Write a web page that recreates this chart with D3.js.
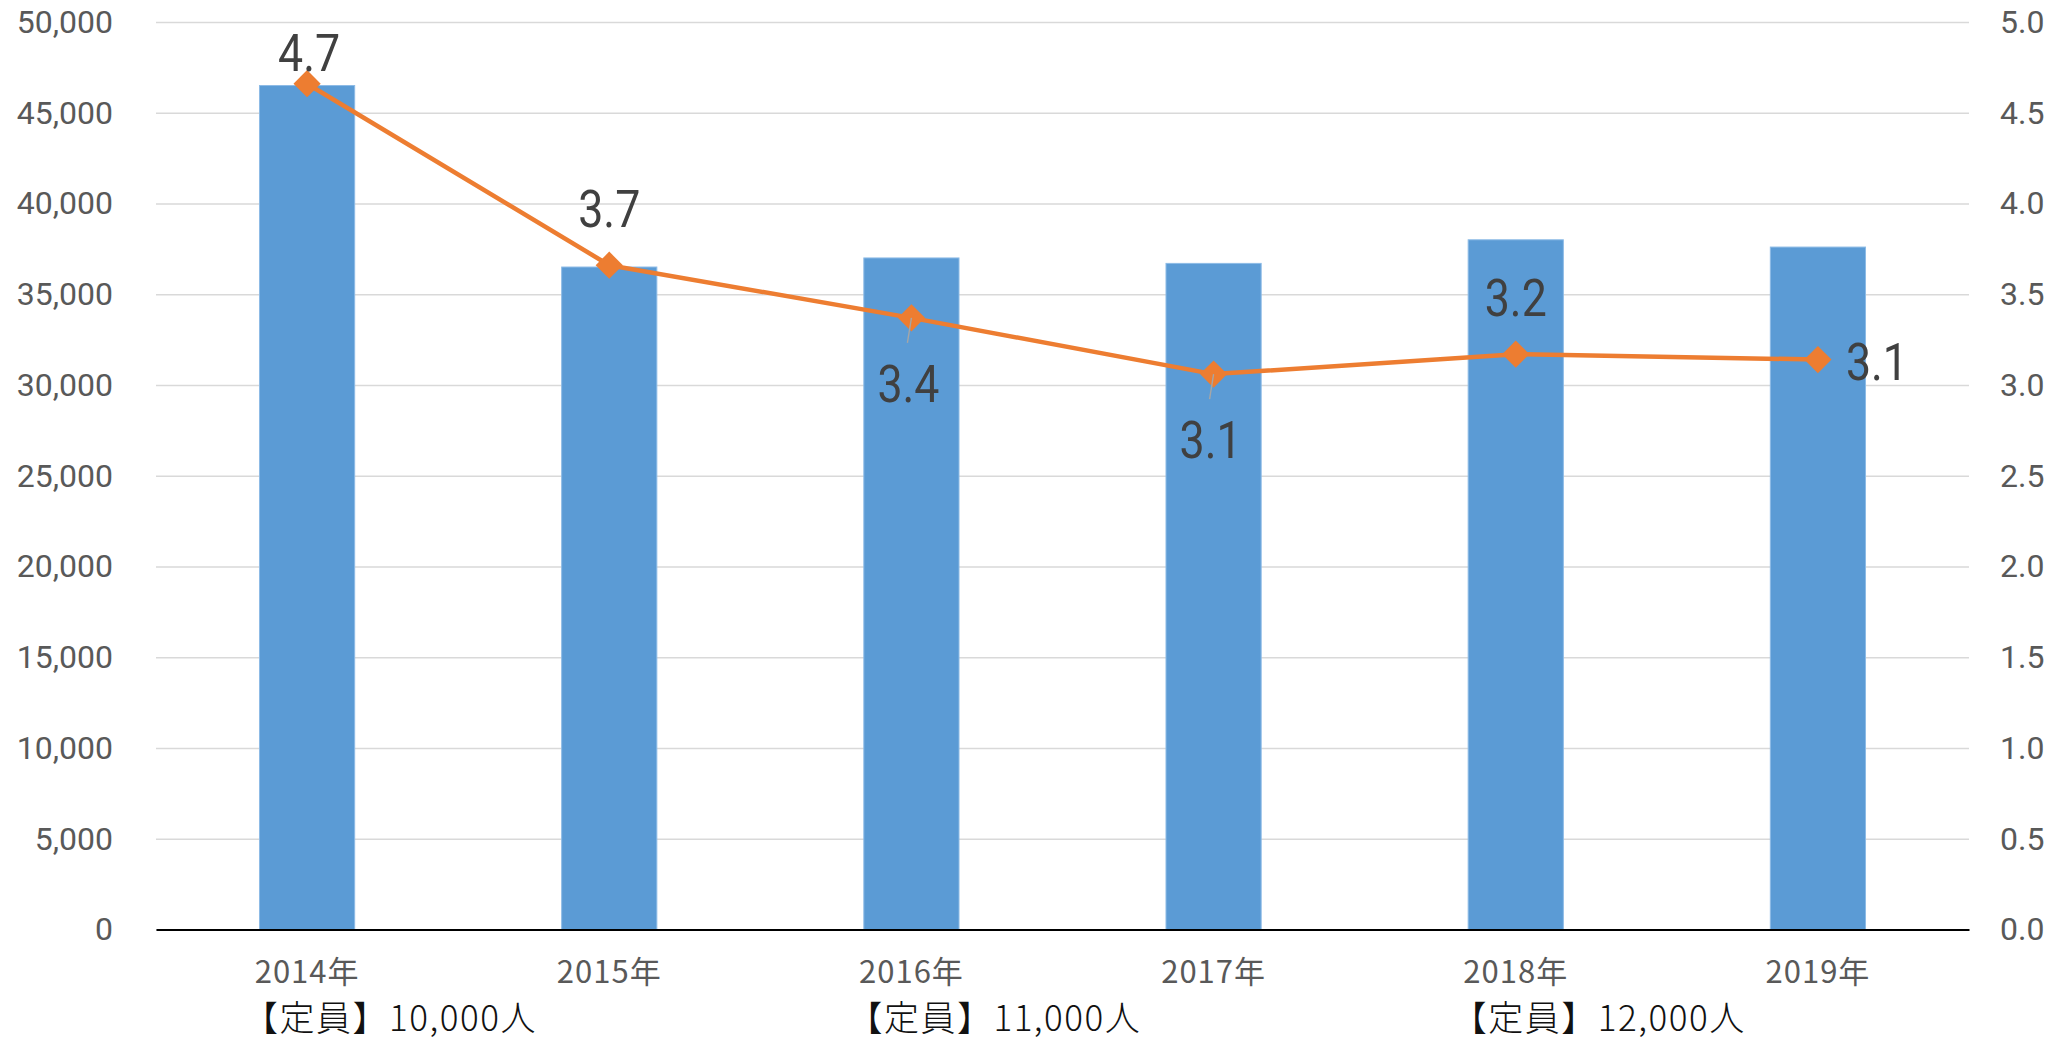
<!DOCTYPE html>
<html>
<head>
<meta charset="utf-8">
<script src="https://cdn.jsdelivr.net/npm/d3@7"></script>
<style>
  body { margin: 0; background: #fff; }
  svg { display: block; }
</style>
</head>
<body>
<svg id="chart"></svg>
<script>
// data
const years = ["2014年", "2015年", "2016年", "2017年", "2018年", "2019年"];
const applicants = [46500, 36500, 37000, 36700, 38000, 37600];
const ratio = [4.66, 3.66, 3.37, 3.06, 3.17, 3.14];
const capacityNotes = ["【定員】10,000人", null, "【定員】11,000人", null, "【定員】12,000人", null];
const leftTicks = [0, 5000, 10000, 15000, 20000, 25000, 30000, 35000, 40000, 45000, 50000];
const rightTicks = [0, 0.5, 1, 1.5, 2, 2.5, 3, 3.5, 4, 4.5, 5];
// where each ratio label sits relative to its marker
const labelPlacement = ["top", "above", "below", "below", "above", "right"];

const W = 2069, H = 1043;
const margin = { top: 22, right: 100, bottom: 113.5, left: 156 };
const width = W - margin.left - margin.right;
const height = H - margin.top - margin.bottom;

const svg = d3.select("#chart").attr("width", W).attr("height", H);
const g = svg.append("g").attr("transform", `translate(${margin.left},${margin.top})`);

const x = d3.scaleBand()
  .domain(years)
  .range([0, width])
  .paddingInner(0.685)
  .paddingOuter(0.3425);

const y = d3.scaleLinear().domain([0, 50000]).range([height, 0]);
const y2 = d3.scaleLinear().domain([0, 5]).range([height, 0]);

const cx = d => x(d) + x.bandwidth() / 2;

// grid
g.append("g")
  .attr("class", "grid")
  .call(d3.axisLeft(y).tickValues(leftTicks).tickSize(-width).tickFormat(""))
  .call(s => s.select(".domain").remove())
  .call(s => s.selectAll("line").attr("stroke", "#d9d9d9").attr("stroke-width", 1.4));

// left axis
g.append("g")
  .call(d3.axisLeft(y).tickValues(leftTicks).tickSize(0).tickPadding(43).tickFormat(d3.format(",")))
  .call(s => s.select(".domain").remove())
  .selectAll("text")
  .attr("fill", "#595959")
  .style("font-family", "Roboto, 'Liberation Sans', sans-serif")
  .style("font-size", "32px");

// right axis
g.append("g")
  .attr("transform", `translate(${width},0)`)
  .call(d3.axisRight(y2).tickValues(rightTicks).tickSize(0).tickPadding(31).tickFormat(d3.format(".1f")))
  .call(s => s.select(".domain").remove())
  .selectAll("text")
  .attr("fill", "#595959")
  .style("font-family", "Roboto, 'Liberation Sans', sans-serif")
  .style("font-size", "32px");

// bars
g.selectAll(".bar")
  .data(years)
  .join("rect")
  .attr("class", "bar")
  .attr("x", d => x(d))
  .attr("width", x.bandwidth())
  .attr("y", (d, i) => y(applicants[i]))
  .attr("height", (d, i) => height - y(applicants[i]))
  .attr("fill", "#5b9bd5")
  .attr("stroke", "#8dbbe6")
  .attr("stroke-width", 1);

// category axis
const xAxis = g.append("g")
  .attr("transform", `translate(0,${height})`)
  .call(d3.axisBottom(x).tickSize(0).tickSizeOuter(0));
xAxis.select(".domain").attr("stroke", "#000").attr("stroke-width", 2.2);
xAxis.selectAll("text")
  .attr("dy", null)
  .attr("y", 53)
  .attr("fill", "#595959")
  .style("font-family", "'Noto Sans CJK JP', sans-serif")
  .style("font-size", "31px")
  .style("letter-spacing", "1px");

// capacity notes under some years
g.selectAll(".note")
  .data(years.filter((d, i) => capacityNotes[i]))
  .join("text")
  .attr("class", "note")
  .attr("x", d => cx(d) - 64)
  .attr("y", height + 101)
  .attr("fill", "#111")
  .style("font-family", "'Noto Sans CJK JP', sans-serif")
  .style("font-size", "35px")
  .style("font-weight", 300)
  .style("letter-spacing", "1.5px")
  .text(d => capacityNotes[years.indexOf(d)]);

// ratio line
const line = d3.line()
  .x(d => cx(d))
  .y((d, i) => y2(ratio[i]));

g.append("path")
  .datum(years)
  .attr("d", line)
  .attr("fill", "none")
  .attr("stroke", "#ed7d31")
  .attr("stroke-width", 4.5)
  .attr("stroke-linejoin", "round");

g.selectAll(".marker")
  .data(years)
  .join("path")
  .attr("class", "marker")
  .attr("d", d3.symbol(d3.symbolSquare, 370))
  .attr("transform", (d, i) => `translate(${cx(d)},${y2(ratio[i])}) rotate(45)`)
  .attr("fill", "#ed7d31");

// leader lines for labels pushed below
g.selectAll(".leader")
  .data(years.filter((d, i) => labelPlacement[i] === "below"))
  .join("line")
  .attr("class", "leader")
  .attr("x1", d => cx(d))
  .attr("y1", d => y2(ratio[years.indexOf(d)]))
  .attr("x2", d => cx(d) - 4)
  .attr("y2", d => y2(ratio[years.indexOf(d)]) + 25)
  .attr("stroke", "#a6a6a6")
  .attr("stroke-width", 1.4);

// ratio labels
const offsets = {
  top: { dx: 2, dy: -13, anchor: "middle" },
  above: { dx: 0, dy: -38, anchor: "middle" },
  below: { dx: -3, dy: 84, anchor: "middle" },
  right: { dx: 28, dy: 20, anchor: "start" }
};
g.selectAll(".rlabel")
  .data(years)
  .join("text")
  .attr("class", "rlabel")
  .attr("transform", (d, i) => {
    const o = offsets[labelPlacement[i]];
    return `translate(${cx(d) + o.dx},${y2(ratio[i]) + o.dy}) scale(0.86,1)`;
  })
  .attr("text-anchor", (d, i) => offsets[labelPlacement[i]].anchor)
  .attr("fill", "#404040")
  .style("font-family", "Roboto, 'Liberation Sans', sans-serif")
  .style("font-size", "52px")
  .text((d, i) => d3.format(".1f")(ratio[i]));
</script>
</body>
</html>
